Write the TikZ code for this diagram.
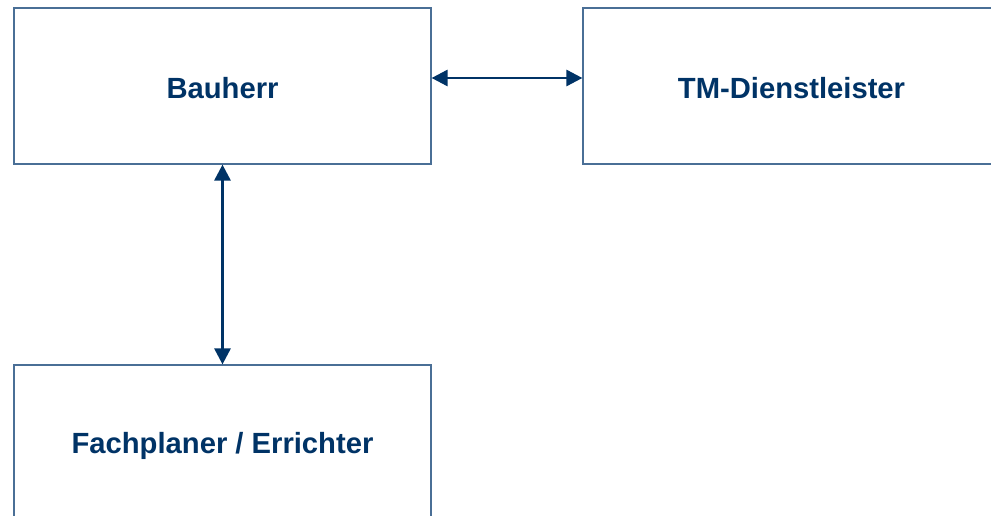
\documentclass[tikz,border=0pt]{standalone}
\usepackage{fontspec}
\setmainfont{Liberation Sans}
\usetikzlibrary{arrows.meta}
\definecolor{boxline}{HTML}{4A6F96}
\definecolor{txt}{HTML}{003366}
\begin{document}
\begin{tikzpicture}[x=1pt,y=-1pt,
  box/.style={draw=boxline,line width=1.2pt,fill=white,minimum width=417pt,minimum height=156pt,inner sep=0pt},
  lbl/.style={font=\fontsize{29.2}{33}\selectfont\bfseries,text=txt,inner sep=0pt},
  conn/.style={draw=txt,line width=2.8pt,{Triangle[length=16pt,width=16pt]}-{Triangle[length=16pt,width=16pt]}}]
\useasboundingbox (0,0) rectangle (991,516);
\node[box] (bau) at (222.5,86) {};
\node[box] (tm) at (791.5,86) {};
\node[box] (fach) at (222.5,443) {};
\node[lbl] (baut) at ([yshift=-2.5pt]bau.center) {Bauherr};
\node[lbl] (tmt) at ([yshift=-2.5pt]tm.center) {TM-Dienstleister};
\node[lbl] (facht) at ([yshift=-2.5pt]fach.center) {Fachplaner / Errichter};
\draw[conn] (bau.east |- 0,78) -- (tm.west |- 0,78);
\draw[conn] (bau.south) -- (fach.north);
\end{tikzpicture}
\end{document}
